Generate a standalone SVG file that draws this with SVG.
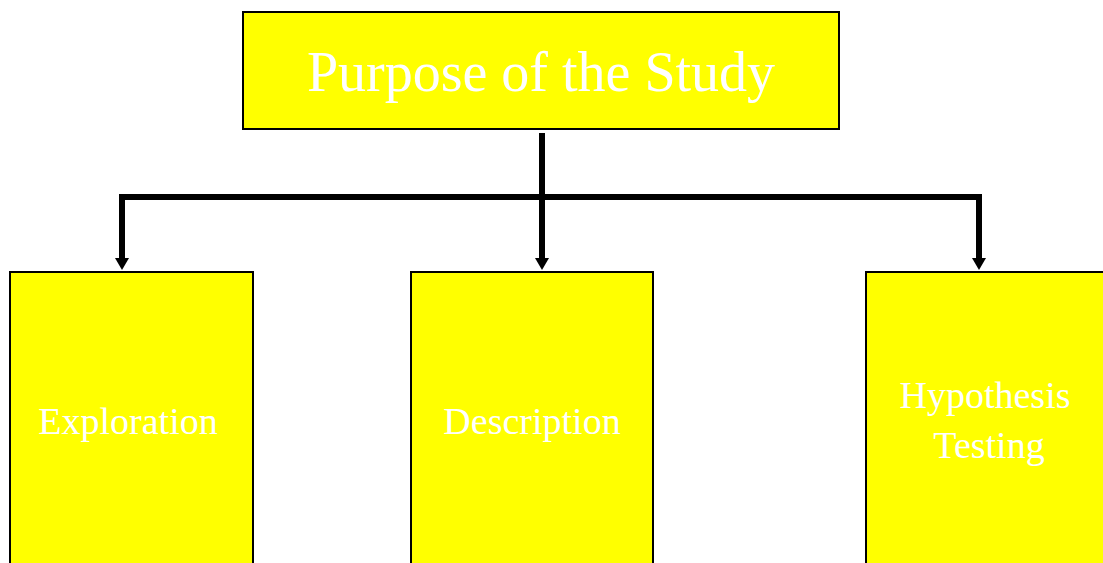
<svg xmlns="http://www.w3.org/2000/svg" width="1103" height="563" viewBox="0 0 1103 563">
<style>
.box{fill:#ffff00;stroke:#000;stroke-width:2}
.t{fill:#fff;font-family:"Liberation Serif",serif;text-anchor:middle}
.c{fill:none;stroke:#000;stroke-width:6}
</style>
<defs>
<marker id="ah" markerUnits="userSpaceOnUse" markerWidth="12" markerHeight="16" refX="0" refY="8" orient="auto" viewBox="0 0 12 16">
<path d="M0,1 L12,8 L0,15 Z" fill="#000"/>
</marker>
</defs>
<rect width="1103" height="563" fill="#fff"/>
<g id="connectors">
<path class="c" d="M542,133 V258" marker-end="url(#ah)"/>
<path class="c" d="M542,197 H979 V258" marker-end="url(#ah)"/>
<path class="c" d="M542,197 H122 V258" marker-end="url(#ah)"/>
</g>
<g id="purpose">
<rect class="box" x="243" y="12" width="596" height="117"/>
<text class="t" x="541" y="91" font-size="56">Purpose of the Study</text>
</g>
<g id="exploration">
<rect class="box" x="10" y="272" width="243" height="300"/>
<text class="t" x="128" y="434" font-size="38">Exploration</text>
</g>
<g id="description">
<rect class="box" x="411" y="272" width="242" height="300"/>
<text class="t" x="532" y="434" font-size="38">Description</text>
</g>
<g id="hypothesis">
<rect class="box" x="866" y="272" width="250" height="300"/>
<text class="t" x="985" y="408" font-size="38">Hypothesis</text>
<text class="t" x="989" y="458" font-size="38">Testing</text>
</g>
</svg>
